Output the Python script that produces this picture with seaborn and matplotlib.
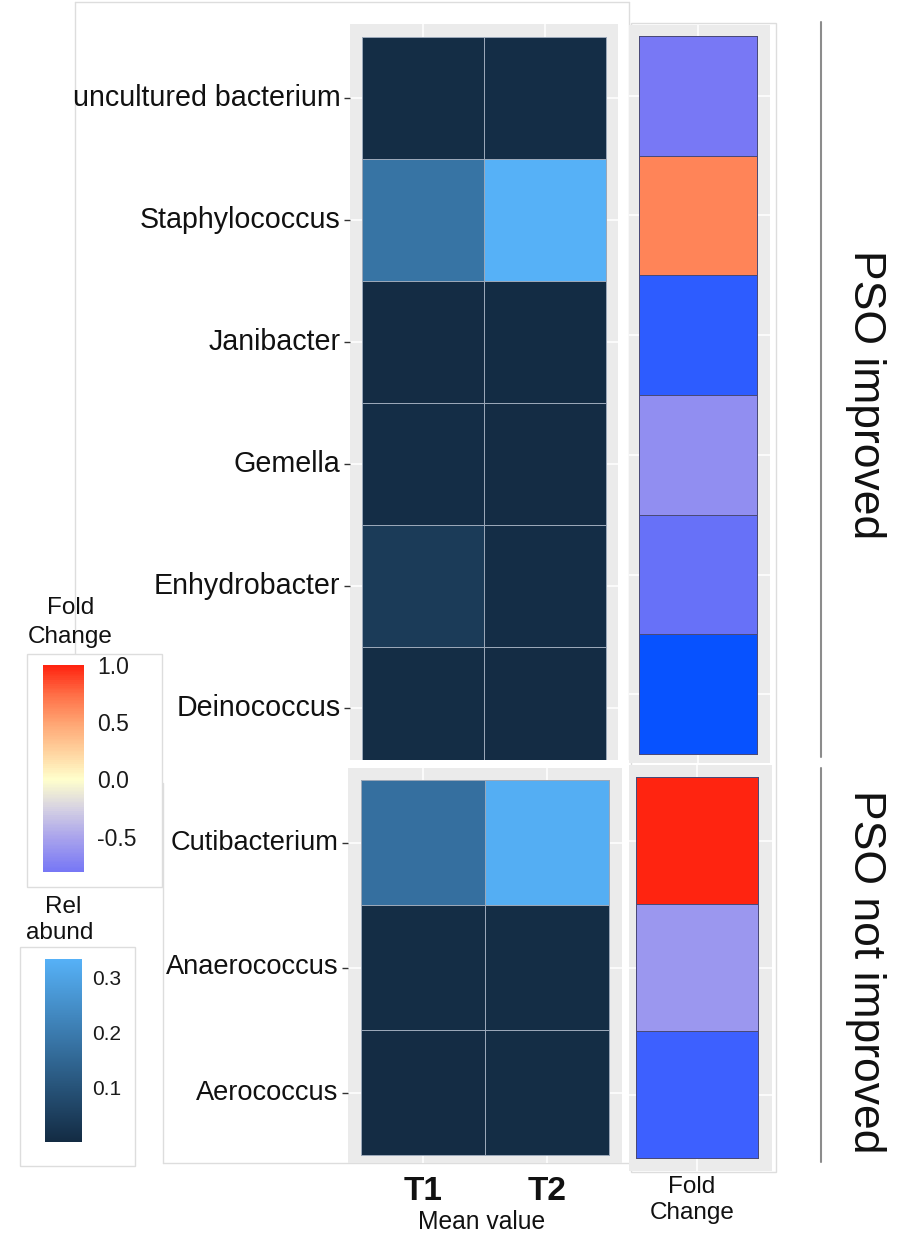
import numpy as np
import pandas as pd
import matplotlib
matplotlib.use("Agg")
import matplotlib.pyplot as plt
from matplotlib.colors import LinearSegmentedColormap, Normalize, ListedColormap
from matplotlib.cm import ScalarMappable
from matplotlib.patches import Rectangle
from matplotlib.lines import Line2D
import seaborn as sns

# ---------------- data ----------------
genera_improved = ["uncultured bacterium", "Staphylococcus", "Janibacter",
                   "Gemella", "Enhydrobacter", "Deinococcus"]
genera_not_improved = ["Cutibacterium", "Anaerococcus", "Aerococcus"]
timepoints = ["T1", "T2"]

t1_improved = [0.004, 0.180, 0.003, 0.006, 0.040, 0.004]
t2_improved = [0.006, 0.333, 0.002, 0.003, 0.006, 0.003]
t1_not_improved = [0.170, 0.004, 0.003]
t2_not_improved = [0.325, 0.005, 0.004]

fold_improved = [-0.80, 0.64, -1.50, -0.65, -0.94, -2.00]
fold_not_improved = [1.00, -0.59, -1.30]

group_labels = ["PSO improved", "PSO not improved"]
rel_ticks = [0.1, 0.2, 0.3]
fold_ticks = [-0.5, 0.0, 0.5, 1.0]

# ---------------- style ----------------
sns.set_theme(style="white")
plt.rcParams["font.family"] = ["Liberation Sans", "DejaVu Sans"]

W, H = 904, 1236
fig = plt.figure(figsize=(W / 100, H / 100), dpi=100)


def box(l, t, r, b):
    return [l / W, 1 - b / H, (r - l) / W, (b - t) / H]


def fx(x):
    return x / W


def fy(y):
    return 1 - y / H


PANEL = "#EBEBEB"
FRAME = "#DDDDDD"

rel_cmap = LinearSegmentedColormap.from_list("rel", ["#132B43", "#56B1F7"])
rel_norm = Normalize(0.0, 0.333)

fold_lo, fold_hi = -2.1, 1.0
fold_nodes = [(-2.1, "#0050FF"), (-1.3, "#3D60FF"), (-0.8, "#7878F5"),
              (-0.5, "#ABA5EC"), (-0.25, "#D6D2E2"), (0.0, "#FFFFCC"),
              (0.25, "#FFD29E"), (0.5, "#FFA472"), (0.75, "#FF6E46"),
              (1.0, "#FF2410")]
fold_cmap = LinearSegmentedColormap.from_list(
    "fold", [((v - fold_lo) / (fold_hi - fold_lo), c) for v, c in fold_nodes])
fold_norm = Normalize(fold_lo, fold_hi)


def fig_line(p0, p1, color=FRAME, lw=1, z=-2):
    fig.add_artist(Line2D([fx(p0[0]), fx(p1[0])], [fy(p0[1]), fy(p1[1])],
                          color=color, lw=lw, zorder=z))


# ---------------- background frames ----------------
fig_line((75, 2), (629, 2), z=-4)
fig_line((75, 2), (75, 654), z=-4)
fig_line((629, 2), (629, 760), z=-4)
fig.add_artist(Rectangle((fx(163), fy(1163)), (631 - 163) / W, (1163 - 760) / H,
                         transform=fig.transFigure, facecolor="white",
                         edgecolor="none", zorder=-3))
fig_line((163, 783), (163, 1163))
fig_line((163, 1163), (631, 1163))
fig.add_artist(Rectangle((fx(631), fy(1172)), (776 - 631) / W, (1172 - 23) / H,
                         transform=fig.transFigure, facecolor="white",
                         edgecolor=FRAME, lw=1, zorder=-3))


def style_panel(ax):
    ax.set_facecolor(PANEL)
    ax.grid(True, color="white", lw=1.1)
    ax.set_axisbelow(True)
    for s in ax.spines.values():
        s.set_visible(False)


# ---------------- relative abundance heatmaps ----------------
df_imp = pd.DataFrame({"T1": t1_improved, "T2": t2_improved}, index=genera_improved)
df_not = pd.DataFrame({"T1": t1_not_improved, "T2": t2_not_improved},
                      index=genera_not_improved)

ax_h1 = fig.add_axes(box(350, 24, 618, 760))
sns.heatmap(df_imp[timepoints], ax=ax_h1, cmap=rel_cmap, vmin=0.0, vmax=0.333,
            cbar=False, linewidths=0.6, linecolor="#9AA7B8")
style_panel(ax_h1)
ax_h1.set_xlim(-12 / 122, 2 + 12 / 122)
ax_h1.set_ylim(6 - 9 / 122, -13 / 122)

ax_h2 = fig.add_axes(box(348, 768, 622, 1163))
sns.heatmap(df_not[timepoints], ax=ax_h2, cmap=rel_cmap, vmin=0.0, vmax=0.333,
            cbar=False, linewidths=0.6, linecolor="#9AA7B8")
style_panel(ax_h2)
ax_h2.set_xlim(-13 / 124, 2 + 13 / 124)
ax_h2.set_ylim(3 + 8 / 125, -12 / 125)

for ax, size in ((ax_h1, 20.6), (ax_h2, 19.6)):
    ax.set_xlabel("")
    ax.set_ylabel("")
    ax.tick_params(axis="y", left=True, length=4.3, width=1, color="#333333",
                   pad=2.5, labelsize=size, labelcolor="#111111")
    plt.setp(ax.get_yticklabels(), rotation=0, va="center")
ax_h1.tick_params(axis="x", bottom=False, labelbottom=False)
ax_h2.tick_params(axis="x", bottom=False, length=0, pad=9, labelsize=24,
                  labelcolor="#111111")
plt.setp(ax_h2.get_xticklabels(), fontweight="bold", rotation=0)

fig.text(fx(482), fy(1222), "Mean value", ha="center", va="center",
         fontsize=17.7, color="#111111")

# ---------------- fold change columns ----------------
fc_imp = pd.DataFrame({"Fold Change": fold_improved}, index=genera_improved)
fc_not = pd.DataFrame({"Fold Change": fold_not_improved}, index=genera_not_improved)

ax_f1 = fig.add_axes(box(629, 25, 770, 763))
sns.heatmap(fc_imp, ax=ax_f1, cmap=fold_cmap, vmin=fold_lo, vmax=fold_hi,
            cbar=False, linewidths=0.7, linecolor="#4A4A78")
style_panel(ax_f1)
ax_f1.set_xlim(-10 / 118, 1 + 13 / 118)
ax_f1.set_ylim(6 + 9 / 119.7, -11 / 119.7)

ax_f2 = fig.add_axes(box(629, 765, 772, 1171))
sns.heatmap(fc_not, ax=ax_f2, cmap=fold_cmap, vmin=fold_lo, vmax=fold_hi,
            cbar=False, linewidths=0.7, linecolor="#4A4A78")
style_panel(ax_f2)
ax_f2.set_xlim(-7 / 122, 1 + 14 / 122)
ax_f2.set_ylim(3 + 13 / 127, -12 / 127)

for ax in (ax_f1, ax_f2):
    ax.set_xlabel("")
    ax.set_ylabel("")
    ax.tick_params(axis="both", left=False, bottom=False, labelleft=False,
                   labelbottom=False)

fig.text(fx(692), fy(1187), "Fold", ha="center", va="center", fontsize=17.5,
         color="#111111")
fig.text(fx(692), fy(1213), "Change", ha="center", va="center", fontsize=17.5,
         color="#111111")

# ---------------- group strips ----------------
for (y0, y1), label, yc in zip([(22, 757), (768, 1162)], group_labels, [395, 972]):
    fig_line((821, y0), (821, y1), color="#8C8C8C", lw=1.5, z=2)
    fig.text(fx(866), fy(yc), label, rotation=-90, ha="center", va="center",
             fontsize=32, color="#111111")

# ---------------- legends ----------------
for l, t, r, b in [(27, 654, 162, 887), (20, 947, 135, 1166)]:
    fig.add_artist(Rectangle((fx(l), fy(b)), (r - l) / W, (b - t) / H,
                             transform=fig.transFigure, facecolor="white",
                             edgecolor=FRAME, lw=1, zorder=-1))

fig.text(fx(71), fy(608), "Fold", ha="center", va="center", fontsize=17.5,
         color="#111111")
fig.text(fx(70), fy(637), "Change", ha="center", va="center", fontsize=17.5,
         color="#111111")
fig.text(fx(63), fy(907), "Rel", ha="center", va="center", fontsize=17.5,
         color="#111111")
fig.text(fx(60), fy(933), "abund", ha="center", va="center", fontsize=17.5,
         color="#111111")

legend_lo = -0.81
sub = fold_cmap(np.linspace(fold_norm(legend_lo), 1.0, 256))
cax_f = fig.add_axes(box(43, 665, 84, 872))
cb_f = fig.colorbar(ScalarMappable(norm=Normalize(legend_lo, 1.0),
                                   cmap=ListedColormap(sub)), cax=cax_f,
                    ticks=fold_ticks)
cb_f.ax.set_yticklabels([f"{v:.1f}" for v in fold_ticks])
cb_f.outline.set_visible(False)
cb_f.ax.tick_params(direction="in", color="white", length=5.5, width=1,
                    left=True, right=True, labelleft=False, labelright=True,
                    labelsize=16.5, pad=9.5, labelcolor="#1A1A1A")

cax_r = fig.add_axes(box(45, 959, 82, 1142))
cb_r = fig.colorbar(ScalarMappable(norm=rel_norm, cmap=rel_cmap), cax=cax_r,
                    ticks=rel_ticks)
cb_r.ax.set_yticklabels([f"{v:.1f}" for v in rel_ticks])
cb_r.outline.set_visible(False)
cb_r.ax.tick_params(direction="in", color="white", length=5.5, width=1,
                    left=True, right=True, labelleft=False, labelright=True,
                    labelsize=15, pad=7.5, labelcolor="#1A1A1A")

fig.savefig("out.png", dpi=100)
